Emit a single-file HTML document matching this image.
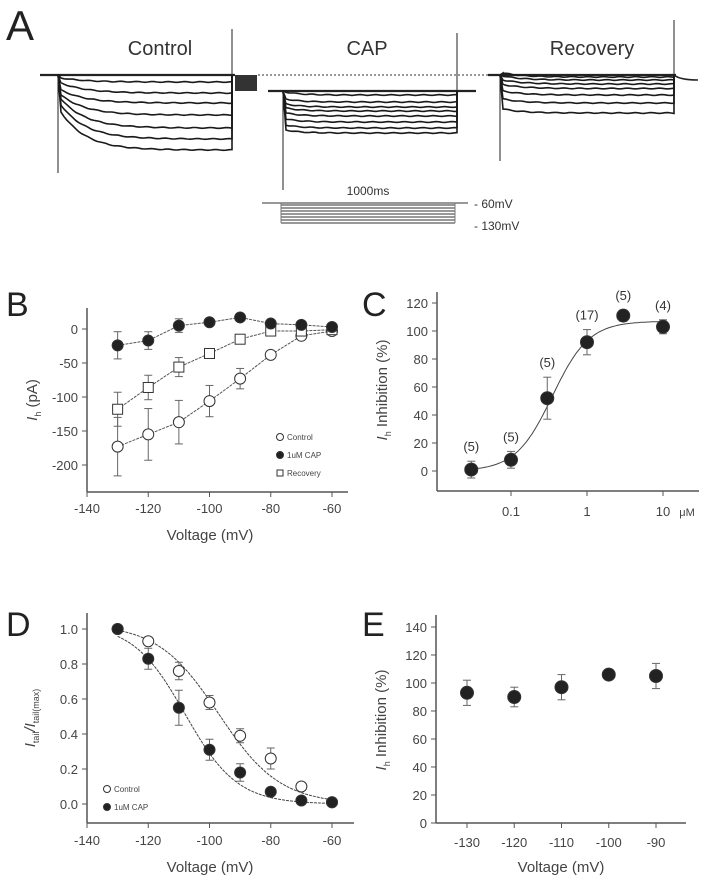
<!DOCTYPE html>
<html><head><meta charset="utf-8">
<style>
html,body{margin:0;padding:0;background:#fff;}
svg{display:block;font-family:"Liberation Sans",Arial,sans-serif;}
</style></head>
<body>
<svg id="fig" width="708" height="890" viewBox="0 0 708 890">
<!-- Panel A -->
<g id="panelA">
  <text x="6" y="40" font-size="42" fill="#222">A</text>
  <text x="160" y="55" font-size="20" fill="#333" text-anchor="middle">Control</text>
  <text x="367" y="55" font-size="20" fill="#333" text-anchor="middle">CAP</text>
  <text x="592" y="55" font-size="20" fill="#333" text-anchor="middle">Recovery</text>
  <line x1="258" y1="75" x2="490" y2="75" stroke="#333" stroke-width="1" stroke-dasharray="2,2"/>
  <text x="368" y="195" font-size="12" fill="#333" text-anchor="middle">1000ms</text>
  <line x1="262" y1="203" x2="468" y2="203" stroke="#333" stroke-width="1"/>
  <text x="474" y="208" font-size="12" fill="#333">- 60mV</text>
  <text x="474" y="230" font-size="12" fill="#333">- 130mV</text>
</g>
<g id="panels"></g>
</svg>
<script>
const NS="http://www.w3.org/2000/svg";
const svg=document.getElementById('fig');
const A=document.getElementById('panelA');
const P=document.getElementById('panels');
function el(tag,attrs,parent){const e=document.createElementNS(NS,tag);for(const k in attrs)e.setAttribute(k,attrs[k]);(parent||P).appendChild(e);return e;}

/* ---------- Panel A trace data ---------- */
const ctrlSteady=[82,93,103,115,128,139,150];
const ctrlPeak=[78,83,90,95,99,105,112];
const capSteady=[95,102,107,111,116,122,128,133];
const recSteady=[77,80,84,88.5,95,103,113];
const stepLevels=[205,208,211,214,217,220,223];

function traceFamily(x0,x1,base,steady,peak,tau,name){
  steady.forEach((s,i)=>{
    const pk=peak?peak[i]:s;
    let d=`M${x0},${base} L${x0+3},${pk}`;
    for(let x=x0+3;x<=x1;x+=3){
      const t=(x-x0-3)/tau;
      const y=s+(pk-s)*Math.exp(-t)+ (Math.sin(x*1.7+i)*0.4);
      d+=` L${x},${y.toFixed(1)}`;
    }
    d+=` L${x1},${base}`;
    const p=el('path',{d:d,fill:'none',stroke:'#1a1a1a','stroke-width':1.6},A);
    
    
  });
}
// Control
el('line',{x1:40,y1:75,x2:235,y2:75,stroke:'#222','stroke-width':2.2},A);
traceFamily(58,232,75,ctrlSteady,ctrlPeak,25,'control');
el('line',{x1:58,y1:75,x2:58,y2:173,stroke:'#222','stroke-width':1},A);
el('line',{x1:232,y1:75,x2:232,y2:29,stroke:'#222','stroke-width':1},A);
el('rect',{x:235,y:75,width:22,height:16,fill:'#333'},A);
// CAP
el('line',{x1:268,y1:91,x2:476,y2:91,stroke:'#222','stroke-width':2.2},A);
traceFamily(283,457,91,capSteady,capSteady.map(v=>v-3),15,'cap');
el('line',{x1:283,y1:91,x2:283,y2:190,stroke:'#222','stroke-width':1},A);
el('line',{x1:457,y1:91,x2:457,y2:33,stroke:'#222','stroke-width':1},A);
// Recovery
el('line',{x1:488,y1:75,x2:676,y2:75,stroke:'#222','stroke-width':2.2},A);
traceFamily(500,674,75,recSteady,recSteady.map(v=>v-4),20,'recovery');
el('line',{x1:500,y1:75,x2:500,y2:161,stroke:'#222','stroke-width':1},A);
el('line',{x1:674,y1:75,x2:674,y2:20,stroke:'#222','stroke-width':1},A);
el('path',{d:'M674,75 Q680,80 698,80',fill:'none',stroke:'#222','stroke-width':1.5},A);
// protocol steps
stepLevels.forEach(y=>{const l=el('line',{x1:281,y1:y,x2:455,y2:y,stroke:'#777','stroke-width':1.6},A);

});
el('line',{x1:281,y1:203,x2:281,y2:223,stroke:'#777','stroke-width':1},A);
el('line',{x1:455,y1:203,x2:455,y2:223,stroke:'#777','stroke-width':1},A);

/* ---------- Panel B data ---------- */
const bVolt=[-130,-120,-110,-100,-90,-80,-70,-60];
const bCtrl=[-173,-155,-137,-106,-73,-38,-10,-3];
const bCtrlErr=[43,38,32,23,15,4,3,2];
const bCap=[-24,-17,5,10,17,8,6,3];
const bCapErr=[20,13,10,4,4,3,2,2];
const bRec=[-118,-86,-56,-36,-15,-3,-3,-1];
const bRecErr=[25,18,14,6,4,3,2,2];
const bYTicks=[0,-50,-100,-150,-200];
const bXTicks=[-140,-120,-100,-80,-60];

/* ---------- Panel C data ---------- */
const cConc=[0.03,0.1,0.3,1,3,10];
const cInh=[1,8,52,92,111,103];
const cErr=[6,6,15,9,4,5];
const cN=['(5)','(5)','(5)','(17)','(5)','(4)'];
const cYTicks=[0,20,40,60,80,100,120];
const cXTicks=[0.1,1,10];
const cXTickLabels=['0.1','1','10'];

/* ---------- Panel D data ---------- */
const dVolt=[-130,-120,-110,-100,-90,-80,-70,-60];
const dCtrl=[1.0,0.93,0.76,0.58,0.39,0.26,0.10,0.01];
const dCtrlErr=[0,0.02,0.05,0.04,0.04,0.06,0.02,0];
const dCap=[1.0,0.83,0.55,0.31,0.18,0.07,0.02,0.01];
const dCapErr=[0,0.06,0.10,0.06,0.05,0.02,0,0];
const dYTicks=[0,0.2,0.4,0.6,0.8,1.0];
const dXTicks=[-140,-120,-100,-80,-60];

/* ---------- Panel E data ---------- */
const eVolt=[-130,-120,-110,-100,-90];
const eInh=[93,90,97,106,105];
const eErr=[9,7,9,3,9];
const eYTicks=[0,20,40,60,80,100,120,140];
const eXTicks=[-130,-120,-110,-100,-90];

const TC='#444';
function lin(d0,d1,r0,r1){return v=>r0+(v-d0)*(r1-r0)/(d1-d0);}
function axes(xAxisY,yAxisX,xL,xR,yT,name){
  const a=el('line',{x1:yAxisX,y1:yT,x2:yAxisX,y2:xAxisY,stroke:'#555','stroke-width':1.5});
  
  
  const b=el('line',{x1:xL,y1:xAxisY,x2:xR,y2:xAxisY,stroke:'#555','stroke-width':1.5});
  
  
}
function text(x,y,s,size,anchor,name,extra){
  const t=el('text',Object.assign({x:x,y:y,'font-size':size,fill:TC,'text-anchor':anchor},extra||{}));
  t.textContent=s;
  
  
  return t;
}
function errbar(x,y0,y1,w,name){
  const g=el('g',{stroke:'#666','stroke-width':1});
  
  
  el('line',{x1:x,y1:y0,x2:x,y2:y1},g);
  el('line',{x1:x-w,y1:y0,x2:x+w,y2:y0},g);
  el('line',{x1:x-w,y1:y1,x2:x+w,y2:y1},g);
}
function marker(type,x,y,r,name){
  let m;
  if(type==='sq') m=el('rect',{x:x-r,y:y-r,width:2*r,height:2*r,fill:'#fff',stroke:'#333','stroke-width':1});
  else m=el('circle',{cx:x,cy:y,r:r,fill:type==='open'?'#fff':'#222',stroke:'#333','stroke-width':1});
  
  
  return m;
}
function ylabel(x,y,parts,name){
  const t=el('text',{x:0,y:0,'font-size':15,fill:TC,'text-anchor':'middle',transform:`translate(${x},${y}) rotate(-90)`});
  
  
  let lastSub=false;
  parts.forEach(([s,kind])=>{
    const attrs={};
    if(kind==='i') attrs['font-style']='italic';
    if(kind==='sub'){attrs['font-size']=9;attrs.dy=4;}
    else if(lastSub){attrs.dy=-4;}
    const sp=el('tspan',attrs,t);sp.textContent=s;
    lastSub=(kind==='sub');
  });
  return t;
}

/* ===== Panel B ===== */
text(6,316,'B',34,'start','panel-label-b',{fill:'#222'});
{
 const X=lin(-140,-60,87,332), Y=lin(0,-200,329,465);
 axes(492,87,87,348,308,'panel-b');
 bYTicks.forEach(v=>{el('line',{x1:82,y1:Y(v),x2:87,y2:Y(v),stroke:'#555'});text(78,Y(v)+5,String(v),13,'end','b-y-tick-label');});
 bXTicks.forEach(v=>{el('line',{x1:X(v),y1:492,x2:X(v),y2:497,stroke:'#555'});text(X(v),513,String(v),13,'middle','b-x-tick-label');});
 text(210,540,'Voltage (mV)',15,'middle','b-x-axis-title');
 ylabel(37,400,[['I','i'],['h','sub'],[' (pA)','']],'b-y-axis-title');
 const series=[[bCtrl,bCtrlErr,'open','control'],[bRec,bRecErr,'sq','recovery'],[bCap,bCapErr,'filled','cap']];
 series.forEach(([vals,errs,type,nm])=>{
   const pl=el('polyline',{points:bVolt.map((v,i)=>X(v)+','+Y(vals[i])).join(' '),fill:'none',stroke:'#555','stroke-width':1,'stroke-dasharray':'3,1'});
   
   
   vals.forEach((v,i)=>{errbar(X(bVolt[i]),Y(v-errs[i]),Y(v+errs[i]),4,'b-'+nm+'-errorbar');});
   vals.forEach((v,i)=>{marker(type,X(bVolt[i]),Y(v),type==='sq'?5:5.5,'b-'+nm+'-point');});
 });
 marker('open',280,437,3.5,'b-legend-control-marker');text(287,440,'Control',8,'start','b-legend-control');
 marker('filled',280,455,3.5,'b-legend-cap-marker');text(287,458,'1uM CAP',8,'start','b-legend-cap');
 marker('sq',280,473,3,'b-legend-recovery-marker');text(287,476,'Recovery',8,'start','b-legend-recovery');
}

/* ===== Panel C ===== */
text(362,316,'C',34,'start','panel-label-c',{fill:'#222'});
{
 const LX=lin(-1,0,511,587), X=v=>LX(Math.log10(v)), Y=lin(0,120,471,303);
 axes(491,437,437,699,292,'panel-c');
 cYTicks.forEach(v=>{el('line',{x1:432,y1:Y(v),x2:437,y2:Y(v),stroke:'#555'});text(428,Y(v)+5,String(v),13,'end','c-y-tick-label');});
 cXTicks.forEach((v,i)=>{el('line',{x1:X(v),y1:491,x2:X(v),y2:496,stroke:'#555'});text(X(v),516,cXTickLabels[i],13,'middle','c-x-tick-label');});
 text(687,516,'μM',11,'middle','c-x-unit');
 ylabel(387,390,[['I','i'],['h','sub'],[' Inhibition (%)','']],'c-y-axis-title');
 let d='';
 for(let lg=Math.log10(0.03);lg<=1.0001;lg+=0.02){const c=Math.pow(10,lg);const y=107/(1+Math.pow(0.35/c,1.8));d+=(d?' L':'M')+X(c).toFixed(1)+','+Y(y).toFixed(1);}
 const f=el('path',{d:d,fill:'none',stroke:'#444','stroke-width':1});
 
 
 cConc.forEach((c,i)=>{
   errbar(X(c),Y(cInh[i]-cErr[i]),Y(cInh[i]+cErr[i]),4,'c-errorbar');
   marker('filled',X(c),Y(cInh[i]),6.5,'c-point');
   text(X(c),Y(Math.max(cInh[i],cInh[i]+cErr[i]))-10,cN[i],13,'middle','c-n-label',{fill:'#333'});
 });
}

/* ===== Panel D ===== */
text(6,636,'D',34,'start','panel-label-d',{fill:'#222'});
{
 const X=lin(-140,-60,87,332), Y=lin(0,1,804,629);
 axes(823,87,87,354,613,'panel-d');
 dYTicks.forEach(v=>{el('line',{x1:82,y1:Y(v),x2:87,y2:Y(v),stroke:'#555'});text(78,Y(v)+5,v.toFixed(1),13,'end','d-y-tick-label');});
 dXTicks.forEach(v=>{el('line',{x1:X(v),y1:823,x2:X(v),y2:828,stroke:'#555'});text(X(v),845,String(v),13,'middle','d-x-tick-label');});
 text(210,872,'Voltage (mV)',15,'middle','d-x-axis-title');
 ylabel(35,718,[['I','i'],['tail','sub'],['/','i'],['I','i'],['tail(max)','sub']],'d-y-axis-title');
 const fits=[[-97,10,'control'],[-108,8.5,'cap']];
 fits.forEach(([vh,k,nm])=>{
   let d='';for(let v=-130;v<=-60;v+=1){const y=1.03/(1+Math.exp((v-vh)/k));d+=(d?' L':'M')+X(v).toFixed(1)+','+Y(y).toFixed(1);}
   const p=el('path',{d:d,fill:'none',stroke:'#444','stroke-width':1,'stroke-dasharray':'3,1'});
   
   
 });
 [[dCtrl,dCtrlErr,'open','control'],[dCap,dCapErr,'filled','cap']].forEach(([vals,errs,type,nm])=>{
   vals.forEach((v,i)=>{if(errs[i]>0)errbar(X(dVolt[i]),Y(v-errs[i]),Y(v+errs[i]),4,'d-'+nm+'-errorbar');});
   vals.forEach((v,i)=>marker(type,X(dVolt[i]),Y(v),5.5,'d-'+nm+'-point'));
 });
 marker('open',107,789,3.5,'d-legend-control-marker');text(114,792,'Control',8,'start','d-legend-control');
 marker('filled',107,807,3.5,'d-legend-cap-marker');text(114,810,'1uM CAP',8,'start','d-legend-cap');
}

/* ===== Panel E ===== */
text(362,636,'E',34,'start','panel-label-e',{fill:'#222'});
{
 const X=lin(-130,-90,467,656), Y=lin(0,140,823,627);
 axes(823,436,436,686,615,'panel-e');
 eYTicks.forEach(v=>{el('line',{x1:431,y1:Y(v),x2:436,y2:Y(v),stroke:'#555'});text(427,Y(v)+5,String(v),13,'end','e-y-tick-label');});
 eXTicks.forEach(v=>{el('line',{x1:X(v),y1:823,x2:X(v),y2:828,stroke:'#555'});text(X(v),847,String(v),13,'middle','e-x-tick-label');});
 text(561,872,'Voltage (mV)',15,'middle','e-x-axis-title');
 ylabel(386,720,[['I','i'],['h','sub'],[' Inhibition (%)','']],'e-y-axis-title');
 eVolt.forEach((v,i)=>{
   errbar(X(v),Y(eInh[i]-eErr[i]),Y(eInh[i]+eErr[i]),4,'e-errorbar');
   marker('filled',X(v),Y(eInh[i]),6.5,'e-point');
 });
}
</script>
</body></html>
